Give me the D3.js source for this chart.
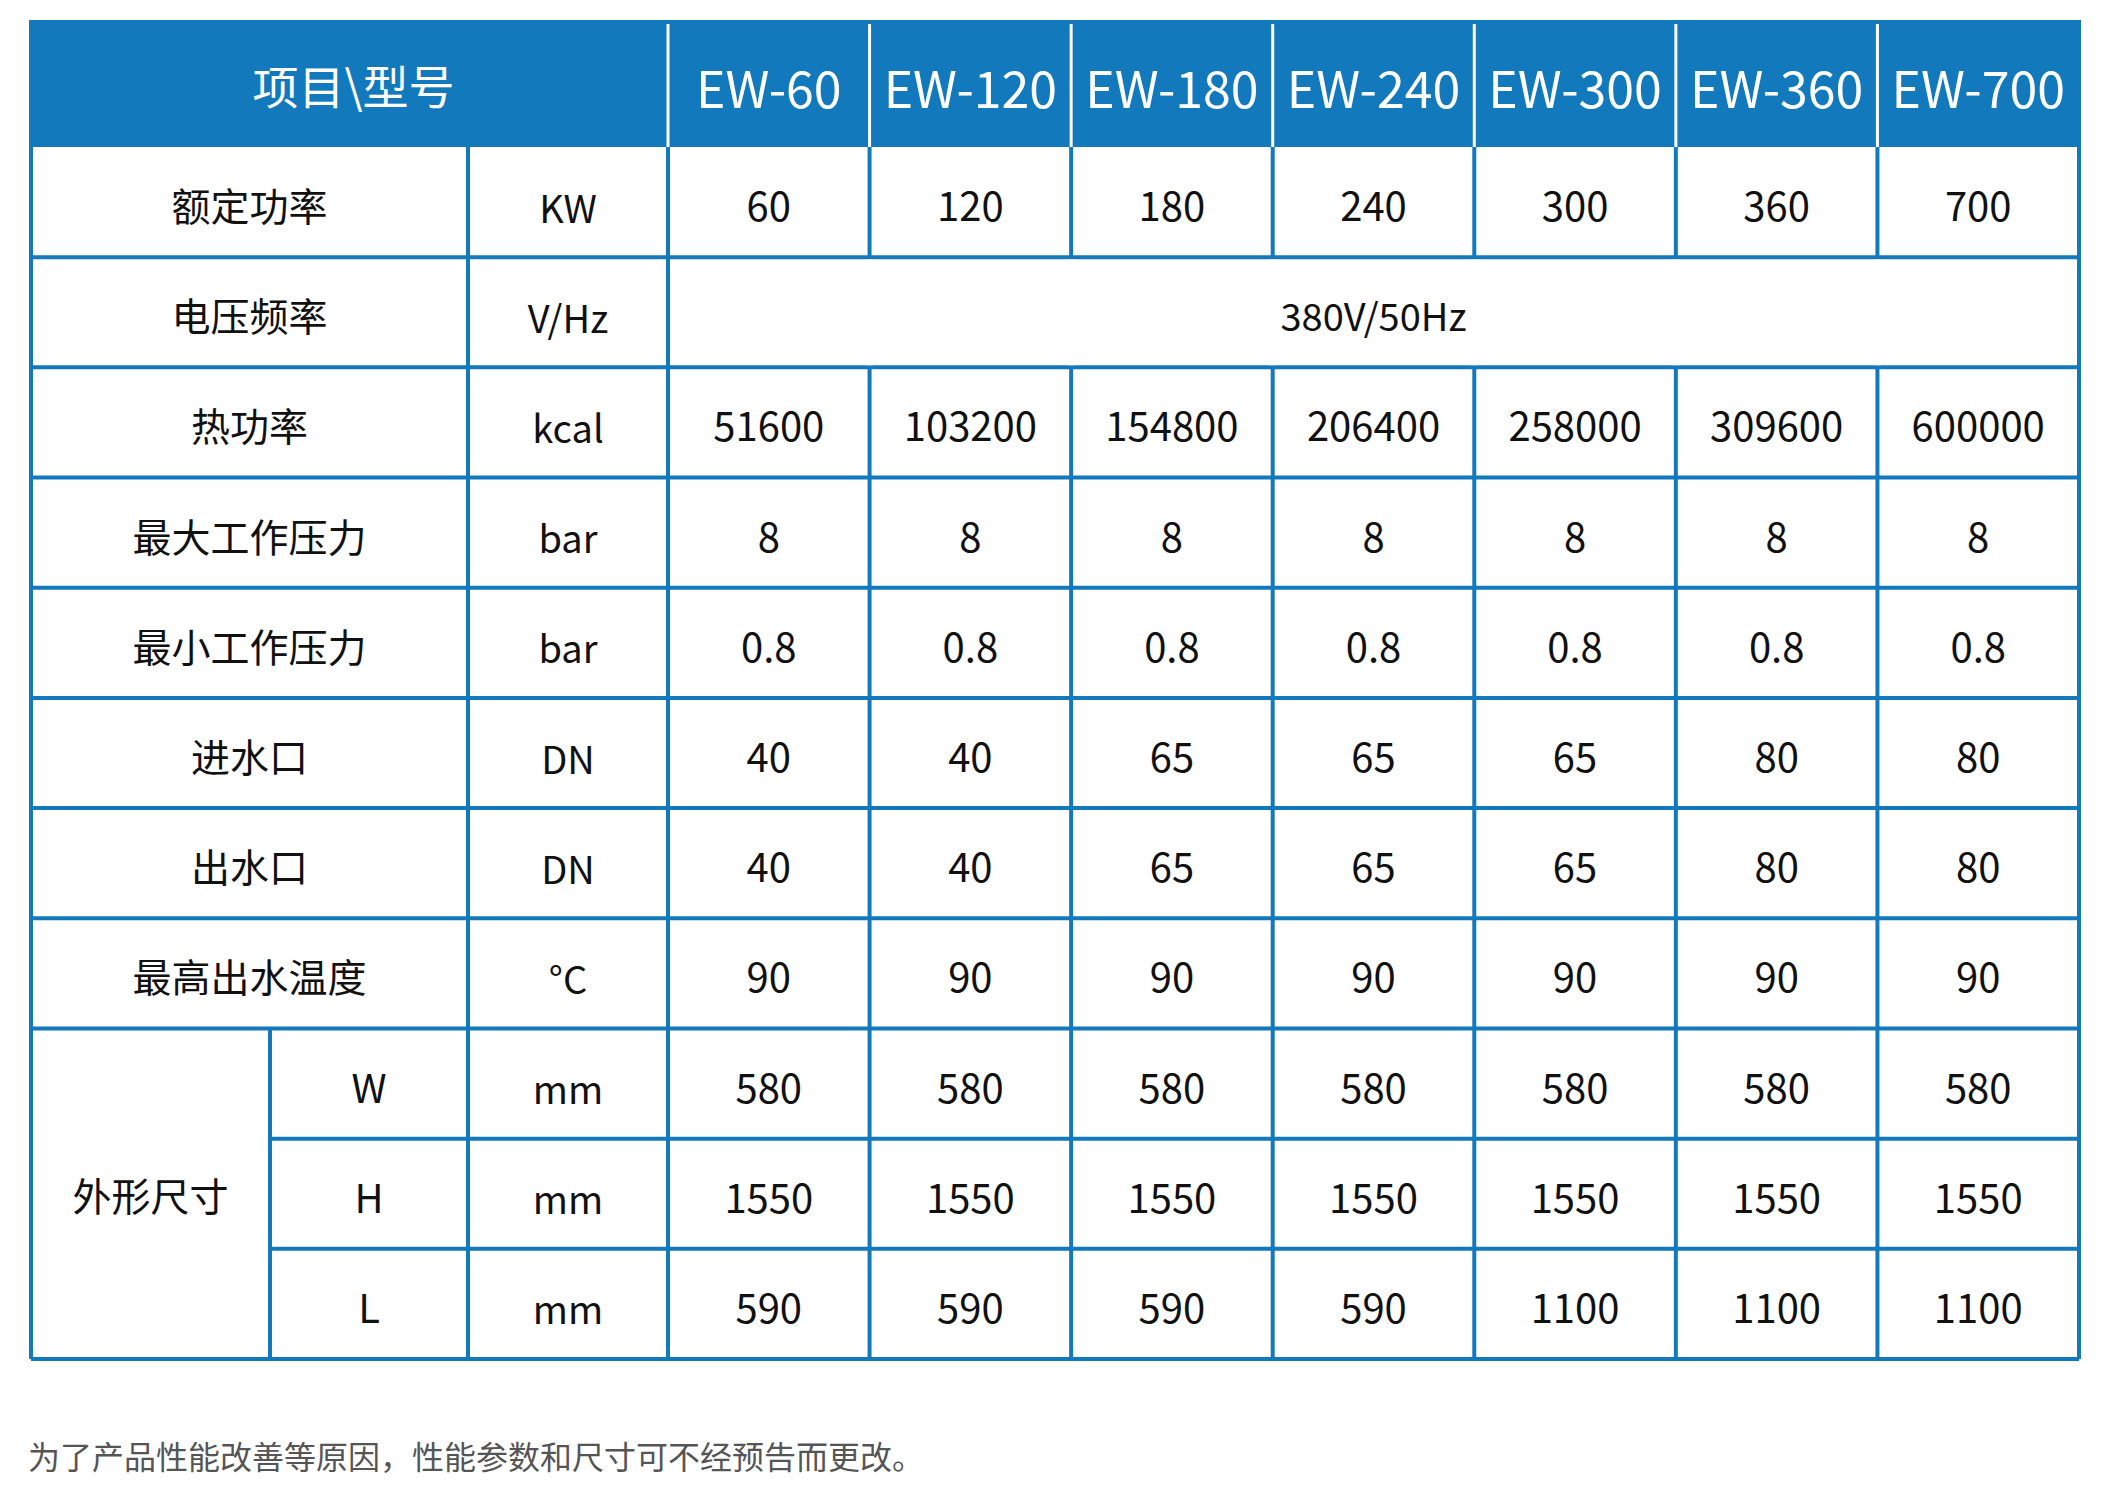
<!DOCTYPE html>
<html><head><meta charset="utf-8">
<script src="https://cdn.jsdelivr.net/npm/d3@7"></script>
<style>body{margin:0;background:#fff}</style>
</head><body><svg id="chart" width="2105" height="1506"></svg>
<script>
const models = ["EW-60", "EW-120", "EW-180", "EW-240", "EW-300", "EW-360", "EW-700"];
const items = ["额定功率", "电压频率", "热功率", "最大工作压力", "最小工作压力", "进水口", "出水口", "最高出水温度", "W", "H", "L"];
const units = ["KW", "V/Hz", "kcal", "bar", "bar", "DN", "DN", "°C", "mm", "mm", "mm"];
const power = ["60", "120", "180", "240", "300", "360", "700"];
const heat = ["51600", "103200", "154800", "206400", "258000", "309600", "600000"];
const maxP = ["8", "8", "8", "8", "8", "8", "8"];
const minP = ["0.8", "0.8", "0.8", "0.8", "0.8", "0.8", "0.8"];
const inlet = ["40", "40", "65", "65", "65", "80", "80"];
const outlet = ["40", "40", "65", "65", "65", "80", "80"];
const maxT = ["90", "90", "90", "90", "90", "90", "90"];
const dimW = ["580", "580", "580", "580", "580", "580", "580"];
const dimH = ["1550", "1550", "1550", "1550", "1550", "1550", "1550"];
const dimL = ["590", "590", "590", "590", "1100", "1100", "1100"];
const rows = [power, null, heat, maxP, minP, inlet, outlet, maxT, dimW, dimH, dimL];

const blue = "#1379bd";
const svg = d3.select("#chart");
const fontNum = "'Liberation Sans Narrow', 'Noto Sans CJK SC', sans-serif";
const fontCJK = "'Noto Sans CJK SC', sans-serif";

const xL = 31, xR = 2079, yT = 20, headBottom = 147, yB = 1359;
const xSub = 270, xUnit = 468, xModel = 668;
const x = d3.scaleBand().domain(models).range([xModel, xR]);
const y = d3.scaleBand().domain(d3.range(items.length)).range([headBottom, yB]);

// header
svg.append("rect").attr("x", xL).attr("y", yT).attr("width", xR - xL).attr("height", headBottom - yT).attr("fill", blue);
svg.append("text").attr("x", (xL + xModel) / 2 + 4).attr("y", (yT + headBottom) / 2)
  .attr("text-anchor", "middle").attr("dominant-baseline", "central")
  .attr("font-family", fontCJK).attr("font-size", 46).attr("fill", "#fff").text("项目\\型号");
svg.selectAll(".hsep").data(models).join("line")
  .attr("x1", d => x(d)).attr("x2", d => x(d)).attr("y1", yT + 4).attr("y2", headBottom)
  .attr("stroke", "#fff").attr("stroke-width", 3);
svg.selectAll(".htext").data(models).join("text")
  .attr("x", d => x(d) + x.bandwidth() / 2).attr("y", (yT + headBottom) / 2 + 2)
  .attr("text-anchor", "middle").attr("dominant-baseline", "central")
  .attr("font-family", fontNum).attr("font-size", 50).attr("fill", "#fff").text(d => d);

// body labels
const g = svg.append("g");
items.forEach((it, i) => {
  const cy = y(i) + y.bandwidth() / 2 + 2;
  const isDim = i >= 8;
  g.append("text").attr("x", isDim ? (xSub + xUnit) / 2 : (xL + xUnit) / 2).attr("y", cy)
    .attr("text-anchor", "middle").attr("dominant-baseline", "central")
    .attr("font-family", isDim ? fontNum : fontCJK).attr("font-size", isDim ? 40 : 39).attr("fill", "#111").text(it);
  g.append("text").attr("x", (xUnit + xModel) / 2).attr("y", cy + 2)
    .attr("text-anchor", "middle").attr("dominant-baseline", "central")
    .attr("font-family", fontNum).attr("font-size", 38).attr("fill", "#111").text(units[i]);
  if (rows[i]) {
    g.selectAll(null).data(rows[i]).join("text")
      .attr("x", (d, j) => x(models[j]) + x.bandwidth() / 2).attr("y", cy)
      .attr("text-anchor", "middle").attr("dominant-baseline", "central")
      .attr("font-family", fontNum).attr("font-size", 40).attr("fill", "#111").text(d => d);
  } else {
    g.append("text").attr("x", (xModel + xR) / 2).attr("y", cy)
      .attr("text-anchor", "middle").attr("dominant-baseline", "central")
      .attr("font-family", fontNum).attr("font-size", 38).attr("fill", "#111").text("380V/50Hz");
  }
});
g.append("text").attr("x", (xL + xSub) / 2).attr("y", y(9) + y.bandwidth() / 2)
  .attr("text-anchor", "middle").attr("dominant-baseline", "central")
  .attr("font-family", fontCJK).attr("font-size", 39).attr("fill", "#111").text("外形尺寸");

// grid lines
const lines = svg.append("g").attr("stroke", blue).attr("stroke-width", 4);
items.forEach((it, i) => {
  if (i === 0) return;
  lines.append("line").attr("x1", i > 8 ? xSub : xL).attr("x2", xR).attr("y1", y(i)).attr("y2", y(i));
});
lines.append("line").attr("x1", xL).attr("x2", xR).attr("y1", yB).attr("y2", yB);
lines.append("line").attr("x1", xL).attr("x2", xL).attr("y1", yT).attr("y2", yB);
lines.append("line").attr("x1", xR).attr("x2", xR).attr("y1", yT).attr("y2", yB);
lines.append("line").attr("x1", xSub).attr("x2", xSub).attr("y1", y(8)).attr("y2", yB);
lines.append("line").attr("x1", xUnit).attr("x2", xUnit).attr("y1", headBottom).attr("y2", yB);
models.forEach(m => {
  lines.append("line").attr("x1", x(m)).attr("x2", x(m)).attr("y1", headBottom).attr("y2", yB);
});
// merged voltage row: hide inner model separators
svg.selectAll(".vmask").data(models.slice(1)).join("rect")
  .attr("x", d => x(d) - 3).attr("y", y(1) + 2).attr("width", 6).attr("height", y.bandwidth() - 4).attr("fill", "#fff");

svg.append("text").attr("x", 28).attr("y", 1469)
  .attr("font-family", fontCJK).attr("font-size", 32).attr("fill", "#555")
  .text("为了产品性能改善等原因，性能参数和尺寸可不经预告而更改。");
</script></body></html>
